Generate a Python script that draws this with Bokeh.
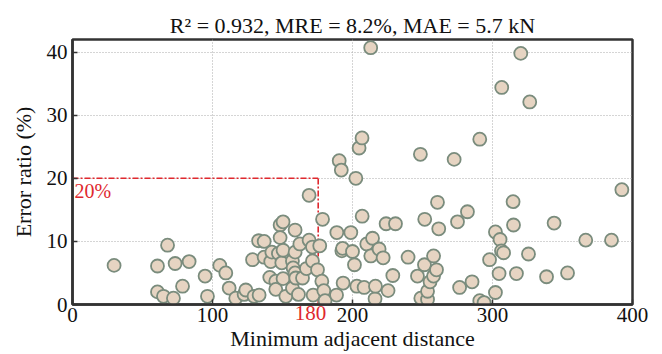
from bokeh.plotting import figure
from bokeh.models import Label, Range1d, FixedTicker, ColumnDataSource, LinearAxis
from bokeh.embed import file_html
from bokeh.resources import INLINE

# --- data ---
distance = [
    29.7, 60.7, 67.9, 73.3, 83.3, 78.6, 60.7, 65.0, 72.1, 94.7, 96.4, 105.2, 109.5,
    111.9, 116.6, 122.6, 123.8, 128.6, 129.7, 132.9, 133.3, 136.9, 136.9, 140.9,
    141.6, 142.4, 145.2, 145.2, 147.1, 148.3, 148.3, 149.5, 150.4, 150.4, 150.4,
    152.4, 157.1, 157.1, 157.6, 159.0, 159.0, 159.0, 159.5, 161.4, 162.4, 164.3,
    167.1, 169.0, 169.0, 171.4, 171.4, 171.9, 175.0, 176.6, 178.1, 178.6, 179.5,
    180.4, 188.6, 188.8, 190.5, 192.0, 192.4, 192.9, 193.3, 198.8, 200.0, 201.4,
    202.4, 203.1, 204.7, 206.8, 206.9, 208.3, 210.2, 213.0, 213.1, 214.3, 216.1,
    216.4, 219.0, 221.9, 224.0, 225.4, 228.8, 230.7, 239.7, 246.4, 248.5, 248.8,
    251.4, 251.6, 253.6, 253.6, 255.4, 257.9, 257.9, 260.0, 260.7, 261.6, 272.6,
    275.0, 276.5, 282.1, 285.4, 290.9, 290.9, 294.0, 297.9, 302.1, 302.1, 304.7,
    305.4, 306.4, 306.6, 307.9, 314.7, 315.0, 317.1, 320.2, 325.7, 326.6, 338.6,
    344.0, 353.6, 366.6, 385.0, 392.4,
]
error_ratio = [
    6.2, 6.1, 9.4, 6.5, 6.8, 2.9, 2.0, 1.3, 1.0, 4.5, 1.3, 6.2, 5.0,
    2.6, 1.0, 1.6, 2.3, 7.1, 1.3, 10.1, 1.5, 10.0, 7.5, 4.3,
    6.8, 8.3, 3.7, 2.4, 8.1, 12.6, 10.6, 6.6, 13.1, 8.6, 4.1,
    1.3, 6.9, 2.6, 5.8, 11.8, 8.3, 5.0, 4.2, 1.6, 9.6, 4.2,
    5.7, 17.3, 10.2, 9.1, 6.9, 1.5, 5.5, 9.3, 3.7, 13.5, 2.2,
    0.6, 1.5, 11.4, 22.8, 21.3, 8.5, 8.9, 3.4, 11.4, 8.4, 6.3,
    20.0, 2.9, 24.8, 26.4, 14.0, 2.7, 9.6, 40.7, 7.7, 10.5, 0.9,
    2.9, 8.8, 7.4, 12.8, 2.2, 4.6, 12.8, 7.5, 4.5, 23.8, 1.0,
    6.3, 13.5, 0.8, 2.1, 3.6, 7.7, 4.5, 5.5, 16.2, 12.0, 23.0,
    13.1, 2.7, 14.7, 3.6, 26.2, 0.6, 0.3, 7.1, 11.5, 1.9, 4.9,
    10.3, 8.5, 34.4, 8.2, 16.3, 12.6, 4.9, 39.8, 8.0, 32.1, 4.4,
    12.9, 5.0, 10.2, 10.2, 18.2,
]
x_ticks = [0, 100, 200, 300, 400]
y_ticks = [0, 10, 20, 30, 40]
threshold_ratio = 20          # horizontal dash-dot line (%)
threshold_distance = 175.5    # vertical dash-dot line, drawn position
threshold_distance_label = "180"
threshold_ratio_label = "20%"
title_text = "R² = 0.932, MRE = 8.2%, MAE = 5.7 kN"

FONT = "'Liberation Serif', 'Times New Roman', serif"
RED = "#E0282E"
INK = "#111111"

p = figure(width=662, height=354, x_range=Range1d(0, 400), y_range=Range1d(0, 42),
           output_backend="svg", toolbar_location=None,
           min_border_left=72, min_border_right=30, min_border_top=39, min_border_bottom=50)

p.title.text = title_text
p.title.align = "center"
p.title.text_font = FONT
p.title.text_font_size = "22px"
p.title.text_font_style = "normal"
p.title.text_color = INK
p.title.standoff = 3

p.outline_line_color = "#333333"
p.outline_line_width = 2.5
p.outline_line_alpha = 1.0

xax = p.xaxis[0]
yax = p.yaxis[0]
for ax in (xax, yax):
    ax.axis_line_width = 2.5
    ax.axis_line_color = "#333333"
    ax.major_tick_in = 5
    ax.major_tick_out = 0
    ax.major_tick_line_color = "#333333"
    ax.major_tick_line_width = 1.5
    ax.minor_tick_line_color = None
    ax.major_label_text_font = FONT
    ax.major_label_text_font_size = "21px"
    ax.major_label_text_color = INK
    ax.axis_label_text_font = FONT
    ax.axis_label_text_font_size = "22px"
    ax.axis_label_text_font_style = "normal"
    ax.axis_label_text_color = INK

xax.ticker = FixedTicker(ticks=x_ticks)
yax.ticker = FixedTicker(ticks=y_ticks)
xax.major_label_standoff = 3
yax.axis_label = "Error ratio (%)"
yax.major_label_standoff = 5
yax.axis_label_standoff = 8

for g in (p.xgrid[0], p.ygrid[0]):
    g.grid_line_color = "#AAAAAA"
    g.grid_line_dash = "1 2"
    g.grid_line_width = 1

# threshold lines
p.line([0, threshold_distance], [threshold_ratio, threshold_ratio], line_color=RED,
       line_width=1.6, line_dash="6 2 2 2")
p.line([threshold_distance, threshold_distance], [0, threshold_ratio], line_color=RED,
       line_width=1.6, line_dash="6 2 2 2")

src = ColumnDataSource(dict(x=distance, y=error_ratio))
p.scatter("x", "y", source=src, size=13, fill_color="#E6D4C2", line_color="#7A8C7D",
          line_width=1.8)

p.add_layout(Label(x=0, y=threshold_ratio, x_offset=2, y_offset=-2, text=threshold_ratio_label,
                   text_font=FONT, text_font_size="20px", text_color=RED,
                   text_baseline="top", text_align="left"))

# second axis below the first: its red "180" label is pulled back up into the
# tick-label row by a negative standoff; it also carries the x-axis title
label_pos = 170
red_axis = LinearAxis(ticker=FixedTicker(ticks=[label_pos]),
                      major_label_overrides={label_pos: threshold_distance_label},
                      axis_line_color=None, major_tick_line_color=None,
                      minor_tick_line_color=None, major_tick_in=0, major_tick_out=0,
                      major_label_text_color=RED,
                      major_label_text_font=FONT, major_label_text_font_size="21px",
                      major_label_standoff=-19,
                      axis_label="Minimum adjacent distance",
                      axis_label_text_font=FONT, axis_label_text_font_size="22px",
                      axis_label_text_font_style="normal", axis_label_text_color=INK,
                      axis_label_standoff=3)
p.add_layout(red_axis, "below")

open("out.html", "w").write(file_html(p, INLINE))
